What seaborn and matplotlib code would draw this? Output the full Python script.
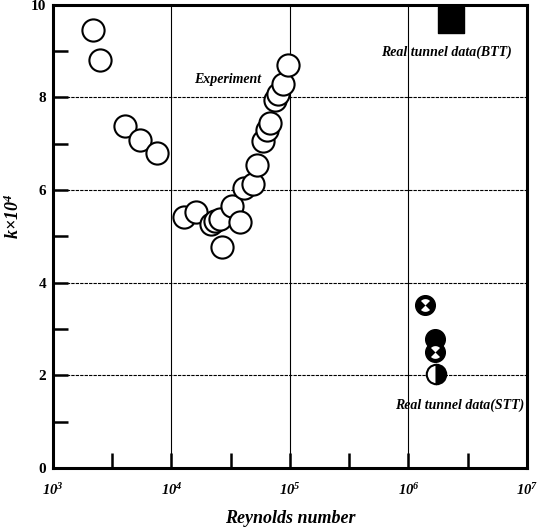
import numpy as np
import pandas as pd
import matplotlib
matplotlib.use('Agg')
import matplotlib.pyplot as plt
import seaborn as sns
from matplotlib.path import Path
from matplotlib.ticker import FixedLocator, NullFormatter

# values
exp_re = [2160, 2510, 4090, 5420, 7600, 12700, 16000, 21400, 23400, 25700, 26500,
          32400, 37600, 41200, 49000, 52500, 59600, 63800, 68400, 75000, 79400,
          87900, 96600]
exp_k = [9.45, 8.80, 7.38, 7.08, 6.79, 5.41, 5.53, 5.26, 5.33, 5.38, 4.76,
         5.66, 5.30, 6.05, 6.13, 6.55, 7.05, 7.30, 7.45, 7.95, 8.08,
         8.28, 8.70]
stt_cross_re = [1.38e6, 1.68e6]
stt_cross_k = [3.52, 2.50]
stt_fill_re = [1.68e6]
stt_fill_k = [2.78]
stt_half_re = [1.71e6]
stt_half_k = [2.02]
btt_re = [2.27e6]
btt_k = [9.68]

x_exps = [3, 4, 5, 6, 7]
xtick_labels = [r'$10^{%d}$' % e for e in x_exps]
y_major = [0, 2, 4, 6, 8, 10]
y_minor = [1, 3, 5, 7, 9]

sns.set_style('ticks')
plt.rcParams['font.family'] = ['Liberation Serif', 'DejaVu Serif']
plt.rcParams['mathtext.fontset'] = 'custom'
plt.rcParams['mathtext.rm'] = 'Liberation Serif:bold:italic'
plt.rcParams['mathtext.it'] = 'Liberation Serif:bold:italic'
plt.rcParams['mathtext.bf'] = 'Liberation Serif:bold:italic'
plt.rcParams['text.color'] = 'black'
plt.rcParams['axes.labelcolor'] = 'black'

fig = plt.figure(figsize=(5.41, 5.28), dpi=100)
ax = fig.add_axes([0.098, 0.114, 0.876, 0.877])

df = pd.DataFrame({'Re': exp_re, 'k': exp_k})
sns.scatterplot(data=df, x='Re', y='k', marker='o', s=255, color='white',
                edgecolor='black', linewidth=1.5, ax=ax, zorder=3, legend=False)

# hourglass wedges for the crossed circles
t1 = np.linspace(np.pi / 4, 3 * np.pi / 4, 12)
t2 = np.linspace(5 * np.pi / 4, 7 * np.pi / 4, 12)
verts, codes = [], []
for t in (t1, t2):
    verts += [(0, 0)] + list(zip(np.cos(t), np.sin(t))) + [(0, 0)]
    codes += [Path.MOVETO] + [Path.LINETO] * len(t) + [Path.CLOSEPOLY]
hourglass = Path(verts, codes)

ax.scatter(stt_fill_re, stt_fill_k, marker='o', s=200, color='black', zorder=4)
ax.scatter(stt_cross_re, stt_cross_k, marker='o', s=200, color='black', zorder=4)
ax.scatter(stt_cross_re, stt_cross_k, marker=hourglass, s=200 * 0.42,
           color='white', linewidths=0, zorder=5)
ax.plot(stt_half_re, stt_half_k, ls='none', marker='o', ms=14, fillstyle='right',
        markerfacecolor='black', markerfacecoloralt='white',
        markeredgecolor='black', mew=1.5, zorder=6)
ax.scatter(btt_re, btt_k, marker='s', s=340, color='black', zorder=4)

ax.set_xscale('log')
ax.set_xlim(1e3, 1e7)
ax.set_ylim(0, 10)
ax.set_xticks([10.0 ** e for e in x_exps])
ax.set_xticklabels(xtick_labels, fontsize=10.5)
ax.xaxis.set_minor_locator(FixedLocator([10 ** (e + 0.5) for e in x_exps[:-1]]))
ax.xaxis.set_minor_formatter(NullFormatter())
ax.set_yticks(y_major)
ax.set_yticklabels([str(v) for v in y_major], fontsize=11, fontweight='bold')
ax.yaxis.set_minor_locator(FixedLocator(y_minor))

ax.xaxis.grid(True, ls='-', lw=0.8, color='black')
ax.yaxis.grid(True, ls=(0, (3, 1)), lw=0.8, color='black')
ax.tick_params(which='both', direction='in', length=11, width=1.8,
               top=False, right=False, colors='black')
ax.tick_params(axis='y', pad=5)
ax.tick_params(axis='x', pad=10)
for s in ax.spines.values():
    s.set_linewidth(2.2)
    s.set_color('black')

ax.set_xlabel('Reynolds number', fontsize=13, fontweight='bold', style='italic',
              labelpad=9)
ax.set_ylabel(r'k×10$^{4}$', fontsize=13, fontweight='bold', style='italic')
ax.yaxis.set_label_coords(-0.063, 0.544)

ax.text(57300, 8.38, 'Experiment', fontsize=10, fontweight='bold',
        style='italic', ha='right', va='center')
ax.text(2.1e6, 8.98, 'Real tunnel data(BTT)', fontsize=10, fontweight='bold',
        style='italic', ha='center', va='center')
ax.text(2.7e6, 1.36, 'Real tunnel data(STT)', fontsize=10, fontweight='bold',
        style='italic', ha='center', va='center')

fig.savefig('out.png', dpi=100)
